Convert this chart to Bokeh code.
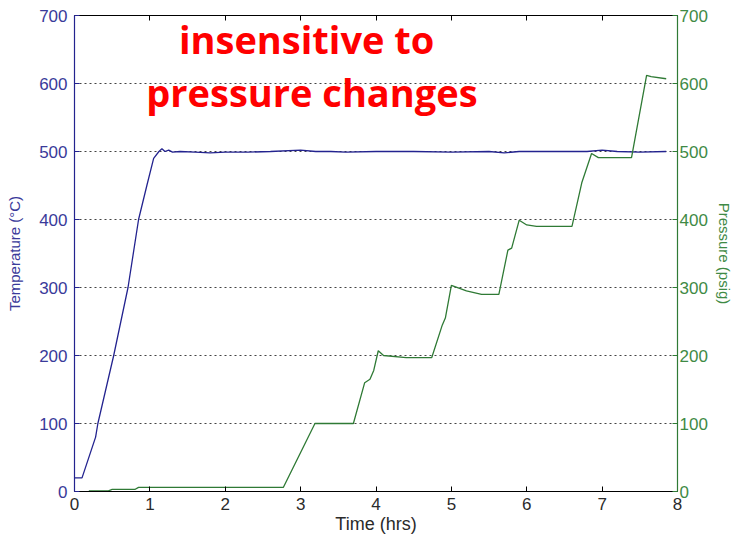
from bokeh.plotting import figure
from bokeh.models import Range1d, LinearAxis, FixedTicker, Label, CustomJSTickFormatter
from bokeh.embed import file_html
from bokeh.resources import INLINE

# Temperature series (hrs, °C)
t_time = [0, 0.1, 0.28, 0.31, 0.52, 0.71, 0.85, 0.96, 1.05, 1.12, 1.16, 1.2, 1.25,
          1.3, 1.4, 1.6, 1.8, 2.0, 2.3, 2.6, 3.0, 3.2, 3.4, 3.6, 4.0, 4.5, 5.0, 5.5,
          5.7, 5.9, 6.2, 6.8, 7.0, 7.2, 7.5, 7.85]
temp = [20, 20, 80, 100, 200, 300, 400, 450, 490, 500, 504, 500, 502,
        499, 500, 499, 498, 499, 499, 500, 502, 500, 500, 499, 500, 500, 499, 500,
        498, 500, 500, 500, 502, 500, 499, 500]

# Pressure series (hrs, psig)
p_time = [0.19, 0.45, 0.5, 0.8, 0.85, 2.77, 3.19, 3.7, 3.85, 3.92, 3.97, 4.03, 4.1,
          4.4, 4.74, 4.88, 4.92, 5.0, 5.2, 5.4, 5.63, 5.75, 5.8, 5.9, 6.0, 6.13,
          6.6, 6.73, 6.86, 6.95, 7.39, 7.59, 7.65, 7.85]
pres = [1, 1, 3, 3, 6, 6, 100, 100, 160, 165, 178, 207, 200,
        197, 197, 245, 255, 303, 295, 290, 290, 355, 358, 399, 392, 390,
        390, 454, 497, 491, 491, 612, 610, 607]

x_ticks = [0, 1, 2, 3, 4, 5, 6, 7, 8]
y_ticks = [0, 100, 200, 300, 400, 500, 600, 700]
grid_ticks = [100, 200, 300, 400, 500, 600]

title_lines = ["insensitive to", "pressure changes"]

BLUE = "#23238f"
BLUE_TXT = "#3a3a9a"
GREEN = "#2f7a35"
GREEN_TXT = "#3f8a45"
FONT = "Liberation Sans"

p = figure(width=735, height=542,
           x_range=Range1d(0, 8), y_range=Range1d(0, 700),
           output_backend="svg", toolbar_location=None,
           min_border_left=74, min_border_right=57, min_border_top=15,
           min_border_bottom=51, x_axis_location=None, y_axis_location=None)
p.extra_y_ranges = {"p": Range1d(0, 700)}
p.outline_line_color = None
p.background_fill_color = "white"
p.border_fill_color = "white"

p.xgrid.visible = False
p.ygrid.ticker = FixedTicker(ticks=grid_ticks)
p.ygrid.grid_line_color = "#444444"
p.ygrid.grid_line_dash = "2 3"
p.ygrid.grid_line_width = 1

def style(ax, color, txtcolor):
    ax.axis_line_color = color
    ax.axis_line_width = 1.2
    ax.major_tick_line_color = color
    ax.major_tick_in = 5
    ax.major_tick_out = 0
    ax.minor_tick_line_color = None
    ax.major_label_text_color = txtcolor
    ax.major_label_text_font = FONT
    ax.major_label_text_font_size = "17px"
    ax.axis_label_text_color = txtcolor
    ax.axis_label_text_font = FONT
    ax.axis_label_text_font_size = "15px"
    ax.axis_label_text_font_style = "normal"

bottom = LinearAxis(ticker=FixedTicker(ticks=x_ticks), axis_label="Time (hrs)")
style(bottom, "black", "#2a2a2a")
bottom.major_label_standoff = 6
bottom.axis_label_standoff = 1
bottom.axis_label_text_font_size = "18px"
p.add_layout(bottom, "below")

top = LinearAxis(ticker=FixedTicker(ticks=x_ticks),
                 formatter=CustomJSTickFormatter(code="return ''"))
style(top, "black", "#2a2a2a")
top.major_label_standoff = 0
p.add_layout(top, "above")

left = LinearAxis(ticker=FixedTicker(ticks=y_ticks), axis_label="Temperature (°C)")
style(left, BLUE, BLUE_TXT)
left.major_label_standoff = 7
left.axis_label_standoff = 13
p.add_layout(left, "left")

right = LinearAxis(y_range_name="p", ticker=FixedTicker(ticks=y_ticks),
                   axis_label="Pressure (psig)")
style(right, GREEN, GREEN_TXT)
right.major_label_standoff = 2
right.axis_label_standoff = 5
p.add_layout(right, "right")

p.line(t_time, temp, line_color=BLUE, line_width=1.3)
p.line(p_time, pres, line_color=GREEN, line_width=1.3, y_range_name="p")

p.add_layout(Label(x=3.08, y=665, text=title_lines[0], text_align="center",
                   text_baseline="alphabetic", text_color="#ff0000", text_font="Open Sans",
                   text_font_style="bold", text_font_size="38px"))
p.add_layout(Label(x=3.15, y=587, text=title_lines[1], text_align="center",
                   text_baseline="alphabetic", text_color="#ff0000", text_font="Open Sans",
                   text_font_style="bold", text_font_size="38px"))

open("out.html", "w").write(file_html(p, INLINE))
